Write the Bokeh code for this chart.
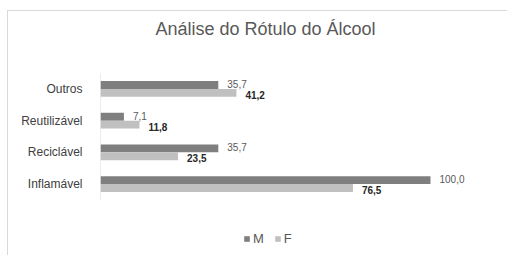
from bokeh.plotting import figure
from bokeh.models import FactorRange, Range1d, ColumnDataSource, Legend, LegendItem, Label
from bokeh.transform import dodge
from bokeh.embed import file_html
from bokeh.resources import INLINE
from bokeh.core.properties import value

categories = ["Outros", "Reutilizável", "Reciclável", "Inflamável"]
m_values = [35.7, 7.1, 35.7, 100.0]
f_values = [41.2, 11.8, 23.5, 76.5]
m_labels = ["35,7", "7,1", "35,7", "100,0"]
f_labels = ["41,2", "11,8", "23,5", "76,5"]
series_names = ["M", "F"]

FONT = "Liberation Sans"
M_COLOR = "#7f7f7f"
F_COLOR = "#c0c0c0"

src = ColumnDataSource(dict(cat=categories, m=m_values, f=f_values, ml=m_labels, fl=f_labels))

factors = list(reversed(categories))
yr = FactorRange(factors=factors, range_padding=0.89, range_padding_units="percent")
p = figure(width=500, height=245, y_range=yr,
           x_range=Range1d(0, 119.7), output_backend="svg", toolbar_location=None,
           min_border_left=92, min_border_right=13, min_border_top=5, min_border_bottom=0)
p.margin = (10, 0, 0, 7)
p.styles = {"border-left": "1px solid #d9d9d9", "border-top": "1px solid #d9d9d9"}
p.outline_line_color = None
p.xgrid.visible = False
p.ygrid.visible = False
p.xaxis.visible = False
p.yaxis.major_tick_line_color = None
p.yaxis.minor_tick_line_color = None
p.yaxis.axis_line_color = None
p.yaxis.major_label_text_font = FONT
p.yaxis.major_label_text_font_size = "12px"
p.yaxis.major_label_text_color = "#404040"
p.yaxis.major_label_standoff = 12

# category axis line spanning only the category band
axis_src = ColumnDataSource(dict(x=[0], lo=[categories[-1]], hi=[categories[0]]))
p.segment(x0="x", x1="x", y0=dodge("lo", -0.5, range=yr), y1=dodge("hi", 0.5, range=yr),
          source=axis_src, line_color="#d9d9d9", line_width=1)

rm = p.hbar(y=dodge("cat", 0.125, range=yr), right="m", left=0, height=0.25,
            source=src, fill_color=M_COLOR, line_color=None)
rf = p.hbar(y=dodge("cat", -0.125, range=yr), right="f", left=0, height=0.25,
            source=src, fill_color=F_COLOR, line_color=None)

p.text(x="m", y=dodge("cat", 0.125, range=yr), text="ml", source=src,
       x_offset=9, y_offset=-1, text_font=value(FONT), text_font_size="10px",
       text_color="#595959", text_baseline="middle", text_align="left")
p.text(x="f", y=dodge("cat", -0.125, range=yr), text="fl", source=src,
       x_offset=9, y_offset=2, text_font=value(FONT), text_font_size="10px",
       text_font_style="bold", text_color="#262626", text_baseline="middle", text_align="left")

title = Label(x=165, y=228, x_units="screen", y_units="screen", text="Análise do Rótulo do Álcool",
              text_font=FONT, text_font_size="18px", text_color="#595959",
              text_align="center", text_baseline="middle")
p.add_layout(title)

legend = Legend(items=[LegendItem(label=series_names[0], renderers=[rm]),
                       LegendItem(label=series_names[1], renderers=[rf])],
                orientation="horizontal", location=(143, 10),
                glyph_width=7, glyph_height=7, label_standoff=3, spacing=10, label_width=0,
                padding=0, margin=0, border_line_color=None, background_fill_alpha=0,
                label_text_font=FONT, label_text_font_size="13px", label_text_color="#595959")
p.add_layout(legend)

open("out.html", "w").write(file_html(p, INLINE))
